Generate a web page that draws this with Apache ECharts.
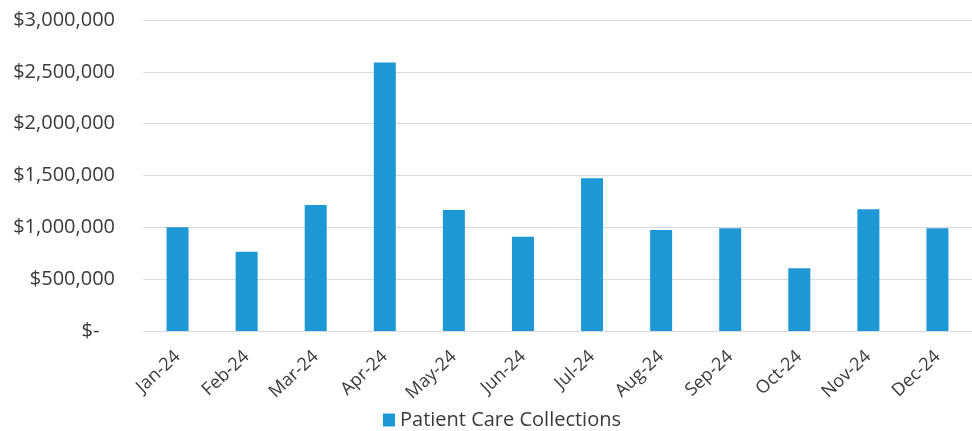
<!DOCTYPE html>
<html>
<head>
<meta charset="utf-8">
<script src="https://cdn.jsdelivr.net/npm/echarts@6/dist/echarts.min.js"></script>
<style>
  html, body { margin: 0; padding: 0; background: #fff; }
  #chart { width: 972px; height: 431px; }
</style>
</head>
<body>
<div id="chart"></div>
<script>
// monthly collections
const months = ["Jan-24", "Feb-24", "Mar-24", "Apr-24", "May-24", "Jun-24",
  "Jul-24", "Aug-24", "Sep-24", "Oct-24", "Nov-24", "Dec-24"];
const collections = [1000000, 765000, 1215000, 2590000, 1168000, 910000,
  1474000, 975000, 990000, 605000, 1175000, 990000];
const seriesName = "Patient Care Collections";

const chart = echarts.init(document.getElementById("chart"));

const fmt = (v) => {
  if (v === 0) return "$-   ";
  return "$" + v.toLocaleString("en-US");
};

chart.setOption({
  animation: false,
  textStyle: { fontFamily: "Open Sans" },
  grid: { left: 143, top: 20, width: 830, height: 311, containLabel: false },
  legend: {
    left: 378,
    top: 405,
    itemWidth: 12,
    itemHeight: 13,
    itemGap: 6,
    icon: "rect",
    textStyle: { fontSize: 20, color: "#3a3a3a", fontFamily: "Open Sans" },
    data: [seriesName]
  },
  xAxis: {
    type: "category",
    data: months,
    axisLine: { show: false },
    axisTick: { show: false },
    axisLabel: {
      rotate: 43,
      interval: 0,
      margin: 23,
      fontSize: 18,
      color: "#3a3a3a"
    }
  },
  yAxis: {
    type: "value",
    min: 0,
    max: 3000000,
    interval: 500000,
    axisLine: { show: false },
    axisTick: { show: false },
    splitLine: { lineStyle: { color: "#d9d9d9", width: 1 } },
    axisLabel: {
      formatter: fmt,
      fontSize: 20,
      color: "#3a3a3a",
      margin: 28
    }
  },
  series: [{
    name: seriesName,
    type: "bar",
    data: collections,
    barWidth: 22,
    itemStyle: { color: "#1e98d5" }
  }]
});
</script>
</body>
</html>
